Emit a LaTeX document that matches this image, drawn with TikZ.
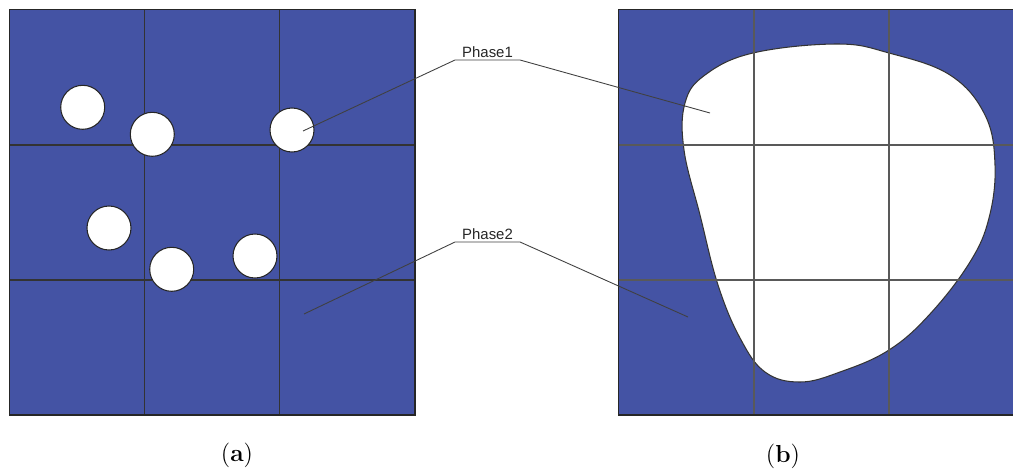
\documentclass[tikz,border=0pt]{standalone}
\usepackage{fontspec}
\newfontfamily\labfont{Liberation Sans}
\definecolor{phaseblue}{RGB}{68,83,164}
\begin{document}
\begin{tikzpicture}[x=0.02cm,y=-0.02cm,
  gridline/.style={draw=black!80, line width=0.6pt},
  frameline/.style={draw=black!85, line width=0.7pt},
  disc/.style={fill=white, draw=black!85, line width=0.6pt},
  blobline/.style={fill=white, draw=black!80, line width=0.6pt},
  leader/.style={draw=black!75, line width=0.5pt},
  phaselab/.style={font=\labfont\fontsize{8.5}{9}\selectfont, text=black!85, inner xsep=0pt, inner ysep=1.5pt, outer sep=0pt, minimum width=1.3cm, anchor=south},
  caption/.style={font=\fontsize{14}{16}\selectfont, inner sep=0pt}]
\useasboundingbox (0,0) rectangle (1013,470);
% ---------- (a) ----------
\fill[phaseblue] (9.5,9.5) rectangle (415,415);
\draw[gridline] (144.5,9.5) -- (144.5,415);
\draw[gridline] (279.5,9.5) -- (279.5,415);
\draw[gridline] (9.5,145) -- (415,145);
\draw[gridline] (9.5,280) -- (415,280);
\draw[frameline] (9.5,9.5) rectangle (415,415);
\draw[disc] (82.7,107.3) circle[radius=22];
\draw[disc] (152.3,134.3) circle[radius=22];
\draw[disc] (292,130) circle[radius=22];
\draw[disc] (109,228) circle[radius=22];
\draw[disc] (171.7,269.3) circle[radius=22];
\draw[disc] (255,256) circle[radius=22];
% ---------- (b) ----------
\begin{scope}
\clip (0,0) rectangle (1013,470);
\fill[phaseblue] (618.5,9.5) rectangle (1024,415);
\draw[blobline] plot[smooth cycle, tension=0.65] coordinates {
  (837,44) (889,53) (950,75) (985,115) (995,165) (989,218) (970,262)
  (930,314) (889,350) (840,372) (800,382) (765,372) (740,338)
  (718,285) (700,215) (684,150) (685,103) (705,75) (753,53)};
\draw[gridline, draw=black!65] (754,9.5) -- (754,415);
\draw[gridline, draw=black!65] (889,9.5) -- (889,415);
\draw[gridline, draw=black!65] (618.5,145) -- (1024,145);
\draw[gridline, draw=black!65] (618.5,280) -- (1024,280);
\draw[frameline] (618.5,9.5) rectangle (1024,415);
\end{scope}
% ---------- labels ----------
\node[phaselab] (p1) at (487.5,60) {Phase1};
\node[phaselab] (p2) at (487.5,242) {Phase2};
\coordinate (t1) at (303,131);
\coordinate (t2) at (710,113);
\coordinate (t3) at (304,314);
\coordinate (t4) at (688,317);
\draw[leader] (t1) -- (p1.south west) -- (p1.south east) -- (t2);
\draw[leader] (t3) -- (p2.south west) -- (p2.south east) -- (t4);
\node[caption] (capa) at (237,455) {(\textbf{a})};
\node[caption] (capb) at (783,456) {(\textbf{b})};
\end{tikzpicture}
\end{document}
